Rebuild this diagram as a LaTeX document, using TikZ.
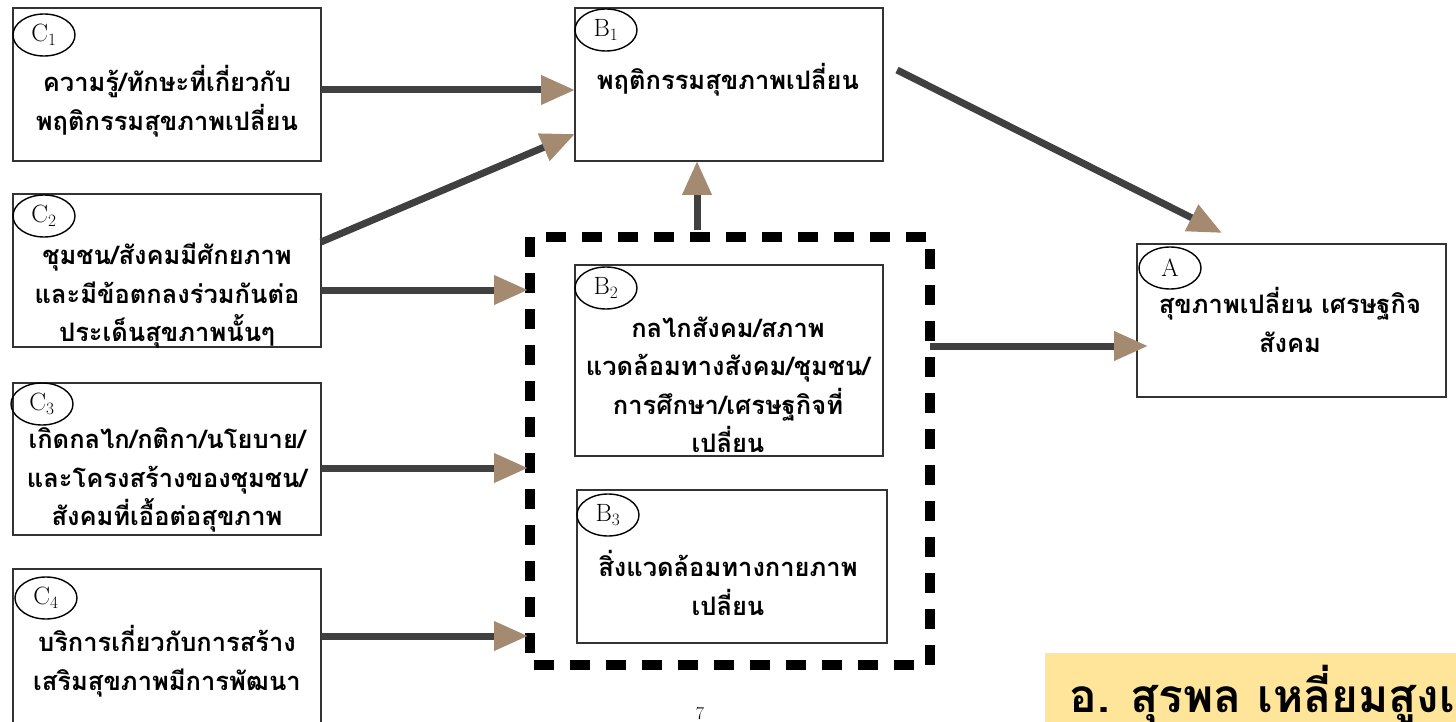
\documentclass[tikz,border=0pt]{standalone}
\usepackage{fontspec}
\newfontfamily\thai[Script=Thai]{Loma}
\usetikzlibrary{arrows.meta,shapes.geometric}
\definecolor{arrowtan}{HTML}{A48A70}
\definecolor{linegray}{HTML}{404040}
\definecolor{boxgray}{HTML}{333333}
\definecolor{noteyellow}{HTML}{FFE599}
\tikzset{
  box/.style={draw=boxgray,line width=1.4pt,fill=white},
  lab/.style={ellipse,draw=black,line width=1.4pt,minimum width=62pt,minimum height=42pt,inner sep=0pt,font=\fontsize{25}{27}\selectfont},
  ttext/.style={align=center,font=\thai\bfseries\fontsize{25.5}{38.5}\selectfont},
  conn/.style={draw=linegray,line width=7pt,-{Triangle[length=34pt,width=28pt,color=arrowtan]}},
  frame/.style={draw=black,line width=10pt,dash pattern=on 20pt off 16pt}
}
\begin{document}
\begin{tikzpicture}[x=1pt,y=-1pt]
\useasboundingbox (0,0) rectangle (1456,722);
% boxes
\draw[box] (13,8) rectangle (321,161);
\draw[box] (13,194) rectangle (321,347);
\draw[box] (13,383) rectangle (321,535);
\draw[box] (13,569) rectangle (321,740);
\draw[box] (575,8) rectangle (883,161);
\draw[box] (575,265) rectangle (883,456);
\draw[box] (577,490) rectangle (887,643);
\draw[box] (1137,244) rectangle (1446,397);
\draw[frame] (530,237) rectangle (930,665);
% anchor points for connectors
\coordinate (c1e) at (321,90);
\coordinate (c2ne) at (321,242);
\coordinate (c2e) at (321,290);
\coordinate (c3e) at (321,468);
\coordinate (c4e) at (321,636);
\coordinate (b1w) at (575,90);
\coordinate (b1sw) at (575,134);
\coordinate (fw1) at (528,290);
\coordinate (fw2) at (528,468);
\coordinate (fw3) at (528,636);
\coordinate (ftop) at (697,230);
\coordinate (b1s) at (697,161);
\coordinate (b1e) at (897,70);
\coordinate (an) at (1222,233);
\coordinate (fe) at (930,346);
\coordinate (aw) at (1148,346);
% labels
\node[lab] (lc1) at (44,35) {C$_1$};
\node[lab] (lc2) at (44,216) {C$_2$};
\node[lab] (lc3) at (42,404) {C$_3$};
\node[lab] (lc4) at (46,598) {C$_4$};
\node[lab] (lb1) at (606,30) {B$_1$};
\node[lab] (lb2) at (606,288) {B$_2$};
\node[lab] (lb3) at (608,515) {B$_3$};
\node[lab] (la) at (1170,268) {A};
% texts
\node[ttext] (t1) at (167,101) {ความรู้/ทักษะที่เกี่ยวกับ\\พฤติกรรมสุขภาพเปลี่ยน};
\node[ttext] (t2) at (167,296) {ชุมชน/สังคมมีศักยภาพ\\และมีข้อตกลงร่วมกันต่อ\\ประเด็นสุขภาพนั้นๆ};
\node[ttext] (t3) at (167,480) {เกิดกลไก/กติกา/นโยบาย/\\และโครงสร้างของชุมชน/\\สังคมที่เอื้อต่อสุขภาพ};
\node[ttext] (t4) at (167,661) {บริการเกี่ยวกับการสร้าง\\เสริมสุขภาพมีการพัฒนา};
\node[ttext] (tb1) at (728,80) {พฤติกรรมสุขภาพเปลี่ยน};
\node[ttext] (tb2) at (728,385) {กลไกสังคม/สภาพ\\แวดล้อมทางสังคม/ชุมชน/\\การศึกษา/เศรษฐกิจที่\\เปลี่ยน};
\node[ttext] (tb3) at (728,583) {สิ่งแวดล้อมทางกายภาพ\\เปลี่ยน};
\node[ttext] (ta) at (1290,320) {สุขภาพเปลี่ยน เศรษฐกิจ\\สังคม};
% connectors
\draw[conn] (c1e) -- (b1w);
\draw[conn] (c2ne) -- (b1sw);
\draw[conn] (c2e) -- (fw1);
\draw[conn] (c3e) -- (fw2);
\draw[conn] (c4e) -- (fw3);
\draw[conn] (ftop) -- (b1s);
\draw[conn] (b1e) -- (an);
\draw[conn] (fe) -- (aw);
% note
\fill[noteyellow] (1045,653) rectangle (1470,740);
\node[anchor=base west,font=\thai\bfseries\fontsize{46}{50}\selectfont] (note) at (1066,712) {อ. สุรพล เหลี่ยมสูงเนิน};
\node[font=\fontsize{18}{20}\selectfont] (pg) at (700,714) {7};
\end{tikzpicture}
\end{document}
